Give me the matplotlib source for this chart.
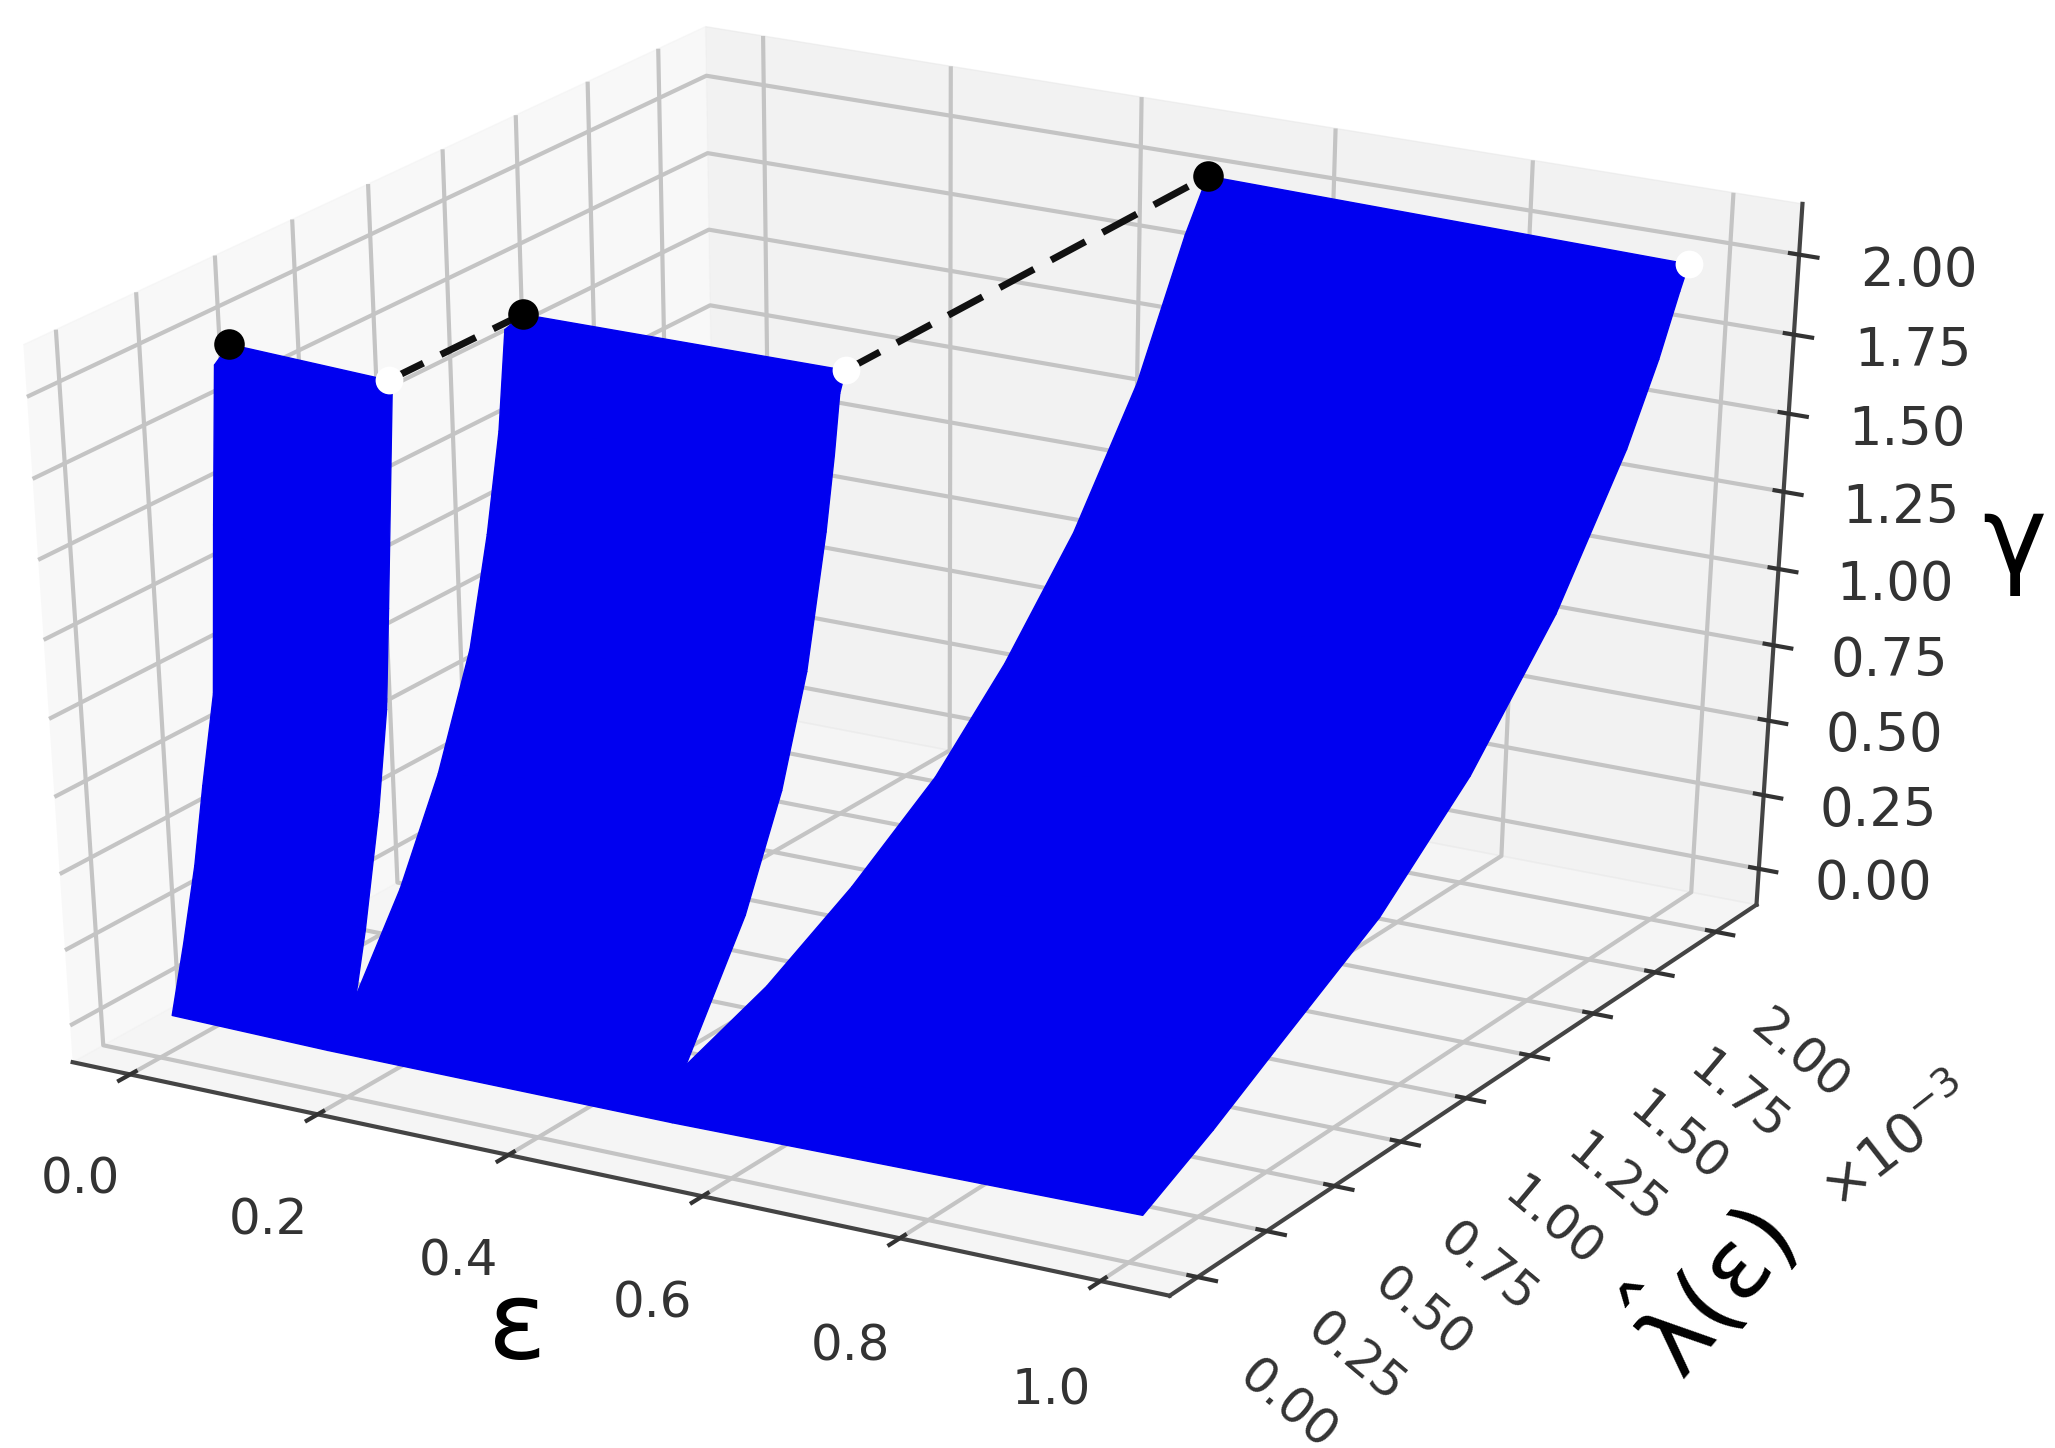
import matplotlib
matplotlib.use("Agg")
import matplotlib.pyplot as plt
import numpy as np

EPS_EDGES = [0.012, 0.181, 0.54, 1.013]

# (gamma, lambda x 1e-3) read along the left and right edge of each blue sheet,
# the last point of each edge is where the dot sits
GAMMA_LEFT_1 = [0.02, 0.23, 0.46, 0.70, 0.97, 1.49, 1.97, 2.01]
LAM_LEFT_1 = [0.01, 0.06, 0.11, 0.15, 0.20, 0.23, 0.26, 0.31]
GAMMA_RIGHT_1 = [0.02, 0.145, 0.34, 0.69, 1.00, 1.31, 1.96, 2.00]
LAM_RIGHT_1 = [0.0, 0.10, 0.14, 0.20, 0.24, 0.26, 0.30, 0.29]

GAMMA_LEFT_2 = [0.02, 0.145, 0.41, 0.71, 1.05, 1.38, 1.68, 1.98, 2.00]
LAM_LEFT_2 = [0.0, 0.10, 0.26, 0.40, 0.52, 0.59, 0.64, 0.67, 0.73]
GAMMA_RIGHT_2 = [0.02, 0.18, 0.55, 0.88, 1.21, 1.61, 1.83, 2.01, 2.07]
LAM_RIGHT_2 = [0.0, 0.05, 0.26, 0.39, 0.48, 0.55, 0.58, 0.60, 0.62]

GAMMA_LEFT_3 = [0.02, 0.18, 0.28, 0.44, 0.64, 0.88, 1.18, 1.55, 1.94, 2.09]
LAM_LEFT_3 = [0.0, 0.05, 0.33, 0.63, 0.93, 1.18, 1.43, 1.66, 1.83, 1.91]
GAMMA_RIGHT_3 = [0.04, 0.17, 0.30, 0.52, 0.80, 1.16, 1.56, 1.79, 1.97, 2.04]
LAM_RIGHT_3 = [0.0, 0.25, 0.47, 0.85, 1.18, 1.49, 1.74, 1.85, 1.92, 1.95]

X_TICKS = [0.0, 0.2, 0.4, 0.6, 0.8, 1.0]
Y_TICKS = [0.0, 0.25, 0.5, 0.75, 1.0, 1.25, 1.5, 1.75, 2.0]
Z_TICKS = [0.0, 0.25, 0.5, 0.75, 1.0, 1.25, 1.5, 1.75, 2.0]

BLUE = "#0000f0"


def main():
    plt.rcParams["grid.color"] = "#c4c4c4"
    plt.rcParams["grid.linewidth"] = 3
    plt.rcParams["axes.linewidth"] = 3
    plt.rcParams["xtick.major.width"] = 3
    plt.rcParams["ytick.major.width"] = 3

    fig = plt.figure(figsize=(20.55, 14.48), dpi=100)
    ax = fig.add_axes([-0.08, 0.072, 1.036, 0.95], projection="3d")
    ax.set_box_aspect((1, 1, 1))
    ax.apply_aspect = lambda position=None: None  # stretch with the axes box, old style
    ax.computed_zorder = False
    ax.view_init(elev=30, azim=-60)

    sheets = [
        (GAMMA_LEFT_1, LAM_LEFT_1, GAMMA_RIGHT_1, LAM_RIGHT_1),
        (GAMMA_LEFT_2, LAM_LEFT_2, GAMMA_RIGHT_2, LAM_RIGHT_2),
        (GAMMA_LEFT_3, LAM_LEFT_3, GAMMA_RIGHT_3, LAM_RIGHT_3),
    ]
    for i, (g_l, lam_l, g_r, lam_r) in enumerate(sheets):
        X = np.array([[EPS_EDGES[i]] * len(g_l), [EPS_EDGES[i + 1]] * len(g_l)])
        Y = np.array([lam_l, lam_r]) * 1e-3
        Z = np.array([g_l, g_r])
        ax.plot_surface(X, Y, Z, color=BLUE, shade=False, linewidth=1,
                        edgecolor=BLUE, zorder=2)

    # dashed jumps between the sheets
    for i in range(2):
        ax.plot([EPS_EDGES[i + 1], EPS_EDGES[i + 1]],
                [sheets[i][3][-1] * 1e-3, sheets[i + 1][1][-1] * 1e-3],
                [sheets[i][2][-1], sheets[i + 1][0][-1]],
                color="#111111", lw=5, dashes=(5.6, 2.8), zorder=1)

    for i in range(3):
        ax.plot([EPS_EDGES[i]], [sheets[i][1][-1] * 1e-3], [sheets[i][0][-1]], "o",
                color="black", ms=22, mew=0, zorder=4)
        ax.plot([EPS_EDGES[i + 1]], [sheets[i][3][-1] * 1e-3], [sheets[i][2][-1]], "o",
                color="white", ms=20, mew=0, zorder=4)

    ax.set_xlim(-0.062, 1.068)
    ax.set_ylim(-0.1e-3, 2.17e-3)
    ax.set_zlim(-0.123, 2.157)

    ax.set_xticks(X_TICKS)
    ax.set_xticklabels([f"{v:.1f}" for v in X_TICKS])
    ax.set_yticks([v * 1e-3 for v in Y_TICKS])
    ax.set_yticklabels([f"{v:.2f}" for v in Y_TICKS])
    ax.set_zticks(Z_TICKS)
    ax.set_zticklabels([f"{v:.2f}" for v in Z_TICKS])
    ax.tick_params(axis="x", labelsize=36, colors="#333333", pad=42)
    ax.tick_params(axis="y", labelsize=36, colors="#333333", pad=44, labelrotation=-40)
    ax.tick_params(axis="z", labelsize=38, colors="#333333", pad=38)

    for axis in (ax.xaxis, ax.yaxis, ax.zaxis):
        axis.set_rotate_label(False)
        axis.line.set_color("#444444")
    ax.set_xlabel("ε", fontsize=78, labelpad=70)
    ax.set_ylabel(r"$\hat{\mathrm{\lambda}}$(ε)", fontsize=70, labelpad=120, rotation=50)
    ax.set_zlabel("γ", fontsize=78, labelpad=72)

    fig.text(0.923, 0.21, r"$\times10^{-3}$", fontsize=40, rotation=38, color="#333333",
             ha="center", va="center")

    fig.savefig("out.png", dpi=100)
    return 0


if __name__ == "__main__":
    main()
